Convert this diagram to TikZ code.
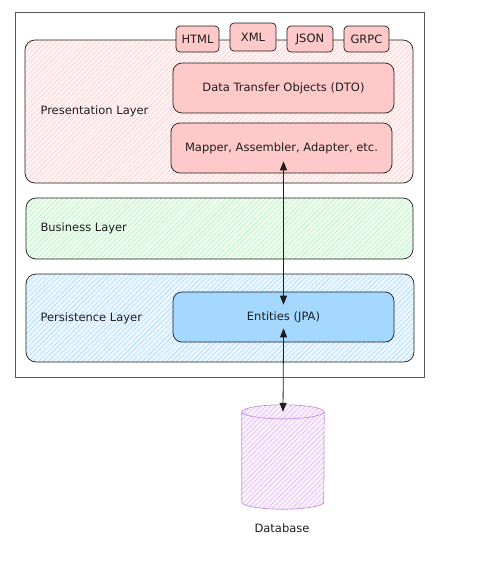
\documentclass[tikz,border=0pt]{standalone}
\usepackage{fontspec}
\setmainfont{DejaVu Sans}
\usepackage{xcolor}
\usepackage{tikz}
\usetikzlibrary{patterns.meta,arrows.meta}

\definecolor{ink}{HTML}{1E1E1E}
\definecolor{pinkfill}{HTML}{FFC9C9}
\definecolor{greenfill}{HTML}{B2F2BB}
\definecolor{bluefill}{HTML}{A5D8FF}
\definecolor{dbline}{HTML}{C98FE0}
\definecolor{dbfill}{HTML}{E2B6F2}

\begin{document}
\begin{tikzpicture}[x=1pt,y=-1pt,
  every node/.style={font=\fontsize{11.5}{13}\selectfont, text=ink},
  layer/.style={draw=ink, rounded corners=10pt, inner sep=0pt, line width=0.7pt, minimum width=388pt},
  hatch/.style={preaction={fill=#1!18}, pattern={Lines[angle=45, distance=3.5pt, line width=0.6pt]}, pattern color=#1},
  box/.style={draw=ink, rounded corners=9pt, line width=0.7pt, inner sep=0pt, minimum width=221pt, minimum height=50pt},
  tag/.style={draw=ink, fill=pinkfill, rounded corners=4pt, line width=0.7pt, inner sep=0pt, minimum height=26pt},
  lbl/.style={anchor=west},
  link/.style={{Triangle[length=9pt,width=7pt]}-{Triangle[length=9pt,width=7pt]}, ink, line width=0.8pt}]
\useasboundingbox (0,0) rectangle (483,568);

% outer frame
\node[draw=ink!75, line width=0.7pt, minimum width=409pt, minimum height=365pt] (frame) at (219.5,194.5) {};

% layers
\node[layer, hatch=pinkfill, minimum height=143pt] (present) at (219,111.5) {};
\node[layer, hatch=greenfill, minimum width=387pt, minimum height=61pt] (business) at (219.5,228.5) {};
\node[layer, hatch=bluefill, minimum height=88pt] (persist) at (220,318) {};
\node[lbl] (presentlbl) at (37,111) {Presentation Layer};
\node[lbl] (businesslbl) at (37,228) {Business Layer};
\node[lbl] (persistlbl) at (37,318) {Persistence Layer};

% formats
\node[tag, minimum width=43pt] (html) at (197.5,39) {HTML};
\node[tag, minimum width=46pt, minimum height=28pt] (xml) at (253,37) {XML};
\node[tag, minimum width=46pt] (json) at (310,39) {JSON};
\node[tag, minimum width=45pt] (grpc) at (366.5,39) {GRPC};

% inner boxes
\node[box, fill=pinkfill] (dto) at (283.5,88) {Data Transfer Objects (DTO)};
\node[box, fill=pinkfill] (mapper) at (281.5,148) {Mapper, Assembler, Adapter, etc.};
\node[box, fill=bluefill] (entities) at (283.5,317) {Entities (JPA)};

% database
\node[minimum width=82pt, minimum height=104pt, inner sep=0pt] (db) at (283,457) {};
\path[hatch=dbfill] ([yshift=-7pt]db.north west) -- ([yshift=7pt]db.south west)
  arc[start angle=180, end angle=360, x radius=41pt, y radius=7pt]
  -- ([yshift=-7pt]db.north east)
  arc[start angle=0, end angle=180, x radius=41pt, y radius=7pt] -- cycle;
\draw[dbline, line width=0.7pt] ([yshift=-7pt]db.north west) -- ([yshift=7pt]db.south west)
  arc[start angle=180, end angle=360, x radius=41pt, y radius=7pt]
  -- ([yshift=-7pt]db.north east);
\draw[dbline, line width=0.7pt] ([yshift=-7pt]db.north) ellipse[x radius=41pt, y radius=7pt];
\node (dblbl) at (282,528) {Database};

% arrows
\draw[link, shorten <=-13pt, shorten >=-12pt] (entities.north) -- (entities.north |- mapper.south);
\draw[link, shorten <=-14pt] (entities.south) -- ([yshift=-7pt]db.north);
\end{tikzpicture}
\end{document}
